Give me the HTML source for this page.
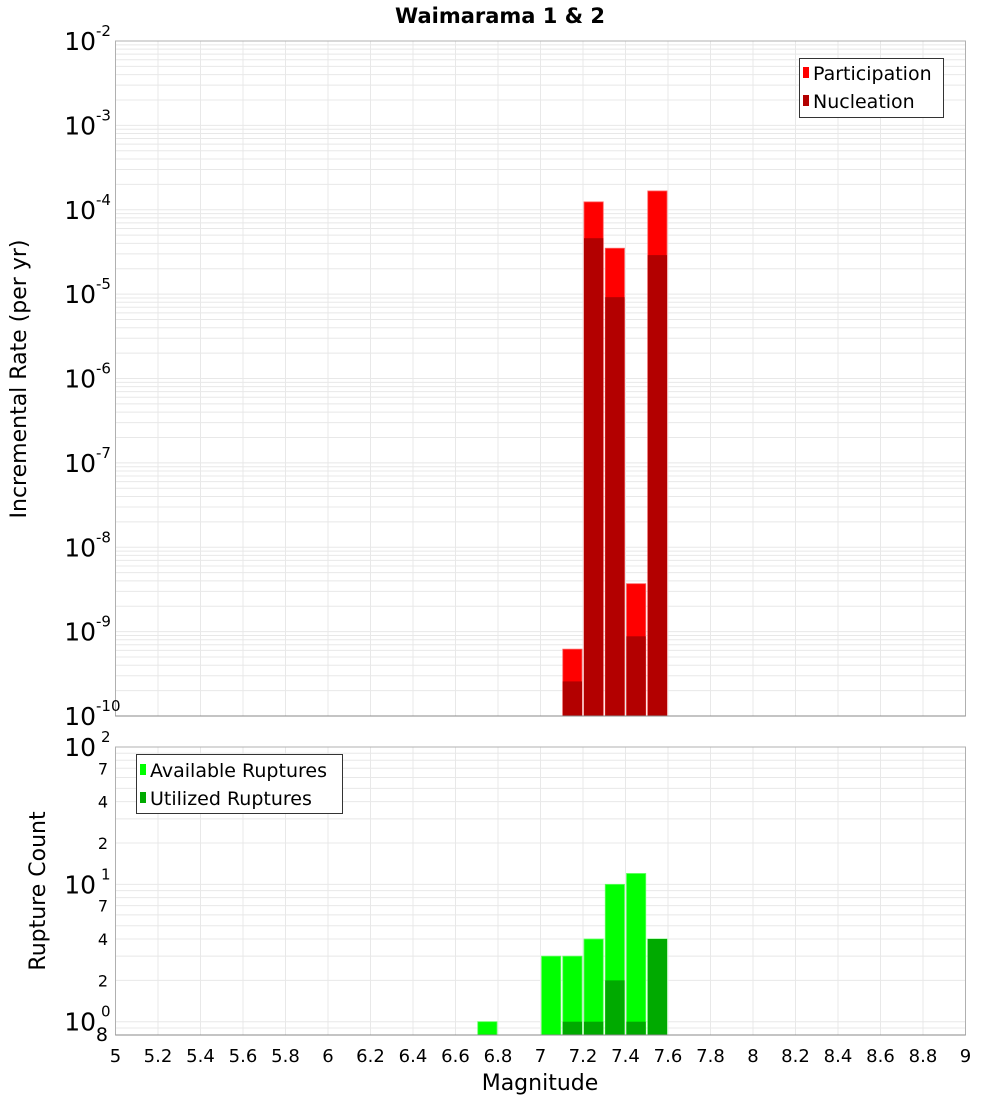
<!DOCTYPE html>
<html><head><meta charset="utf-8"><style>
html,body{margin:0;padding:0;background:#fff;}
svg{display:block;font-family:"DejaVu Sans","Liberation Sans",sans-serif;}
</style></head><body>
<svg id="chart" width="1000" height="1100" viewBox="0 0 1000 1100" xmlns="http://www.w3.org/2000/svg">
<text x="500" y="23" text-anchor="middle" font-size="21" font-weight="bold">Waimarama 1 &amp; 2</text>
<g id="grid1"></g><g id="bars1"></g><g id="axis1"></g>
<g id="grid2"></g><g id="bars2"></g><g id="axis2"></g>
<text transform="translate(26,379) rotate(-90)" text-anchor="middle" font-size="22">Incremental Rate (per yr)</text>
<text transform="translate(45,891) rotate(-90)" text-anchor="middle" font-size="22">Rupture Count</text>
<text x="540" y="1090" text-anchor="middle" font-size="22">Magnitude</text>
<g>
<rect x="799.5" y="58.5" width="144" height="59" fill="#fff" stroke="#333"/>
<rect x="803" y="67" width="6" height="11" fill="#ff0000"/>
<text x="813" y="80" font-size="19">Participation</text>
<rect x="803" y="95" width="6" height="11" fill="#b30000"/>
<text x="813" y="108" font-size="19">Nucleation</text>
</g>
<g>
<rect x="136.5" y="754.5" width="206" height="59" fill="#fff" stroke="#333"/>
<rect x="140" y="764" width="6" height="11" fill="#00ff00"/>
<text x="150" y="777" font-size="19">Available Ruptures</text>
<rect x="140" y="792" width="6" height="11" fill="#00aa00"/>
<text x="150" y="805" font-size="19">Utilized Ruptures</text>
</g>
</svg>
<script>
const magBins=[7.15,7.25,7.35,7.45,7.55];
const participation=[6.2e-10,1.24e-4,3.5e-5,3.7e-9,1.67e-4];
const nucleation=[2.57e-10,4.6e-5,9.2e-6,8.8e-10,2.9e-5];
const countBins=[6.75,7.05,7.15,7.25,7.35,7.45,7.55];
const available=[1,3,3,4,10,12,4];
const utilized=[0,0,1,1,2,1,4];
const xTicks=[5,5.2,5.4,5.6,5.8,6,6.2,6.4,6.6,6.8,7,7.2,7.4,7.6,7.8,8,8.2,8.4,8.6,8.8,9];
const topExps=[-10,-9,-8,-7,-6,-5,-4,-3,-2];
const botMinor=[2,4,7,20,40,70];

const NS="http://www.w3.org/2000/svg";
const L=115.5,R=965.5,T1=41,B1=716,T2=747,B2=1035;
const X=m=>L+(m-5)*(R-L)/4;
const Y1=v=>B1-(Math.log10(v)+10)*(B1-T1)/8;
const lmin=Math.log10(0.8),lmax=2;
const Y2=v=>B2-(Math.log10(v)-lmin)*(B2-T2)/(lmax-lmin);
function mk(p,tag,at,txt){const e=document.createElementNS(NS,tag);for(const k in at)e.setAttribute(k,at[k]);if(txt!==undefined)e.textContent=txt;document.getElementById(p).appendChild(e);return e;}

// top grid
for(let d=-10;d<-2;d++)for(let k=1;k<10;k++){const y=Y1(k*Math.pow(10,d));if(y<T1)continue;
const g=mk('grid1','line',{x1:L,x2:R,y1:y,y2:y,stroke:'#e8e8e8','stroke-width':1});

}
// bottom grid
for(let d=-1;d<2;d++)for(let k=1;k<10;k++){const v=k*Math.pow(10,d);if(v<0.8)continue;const y=Y2(v);
const g=mk('grid2','line',{x1:L,x2:R,y1:y,y2:y,stroke:'#e8e8e8','stroke-width':1});

}
xTicks.forEach(t=>{const x=X(t);
const a=mk('grid1','line',{x1:x,x2:x,y1:T1,y2:B1,stroke:'#e8e8e8'});


const b=mk('grid2','line',{x1:x,x2:x,y1:T2,y2:B2,stroke:'#e8e8e8'});


const lb=mk('axis2','text',{x:x,y:1062,'text-anchor':'middle','font-size':18},String(t));

});

const bw=(R-L)/40;
magBins.forEach((m,i)=>{const x0=X(m)-bw/2+1,w=bw-2;
const p=mk('bars1','rect',{x:x0,y:Y1(participation[i]),width:w,height:B1-Y1(participation[i]),fill:'#ff0000',stroke:'#ff6060','stroke-width':0.8});


const n=mk('bars1','rect',{x:x0,y:Y1(nucleation[i]),width:w,height:B1-Y1(nucleation[i]),fill:'#b30000'});

});
countBins.forEach((m,i)=>{const x0=X(m)-bw/2+1,w=bw-2;
if(available[i]>0){const a=mk('bars2','rect',{x:x0,y:Y2(available[i]),width:w,height:B2-Y2(available[i]),fill:'#00ff00',stroke:'#60ff60','stroke-width':0.8});

}
if(utilized[i]>0){const u=mk('bars2','rect',{x:x0,y:Y2(utilized[i]),width:w,height:B2-Y2(utilized[i]),fill:'#00aa00'});

}});

// frames
const f1=mk('axis1','rect',{x:L,y:T1,width:R-L,height:B1-T1,fill:'none',stroke:'#b0b0b0'});


const f2=mk('axis2','rect',{x:L,y:T2,width:R-L,height:B2-T2,fill:'none',stroke:'#b0b0b0'});


mk('axis1','line',{x1:L,x2:R,y1:B1,y2:B1,stroke:'#888'});
mk('axis2','line',{x1:L,x2:R,y1:B2,y2:B2,stroke:'#888'});

topExps.forEach(e=>{const y=Y1(Math.pow(10,e))+9;
const t=mk('axis1','text',{x:96,y:y,'text-anchor':'end','font-size':25},'10');


mk('axis1','text',{x:96,y:y-14,'font-size':15},String(e));});
[1,10,100].forEach((v,i)=>{const y=Y2(v)+9;
const t=mk('axis2','text',{x:96,y:y,'text-anchor':'end','font-size':25},'10');


mk('axis2','text',{x:101,y:y-14,'font-size':15},String(i));});
botMinor.concat([0.8]).forEach(v=>{const y=Y2(v)+6;
const t=mk('axis2','text',{x:108,y:y,'text-anchor':'end','font-size':v===0.8?19:16},String(v===0.8?8:String(v)[0]));

});
</script>
</body></html>
